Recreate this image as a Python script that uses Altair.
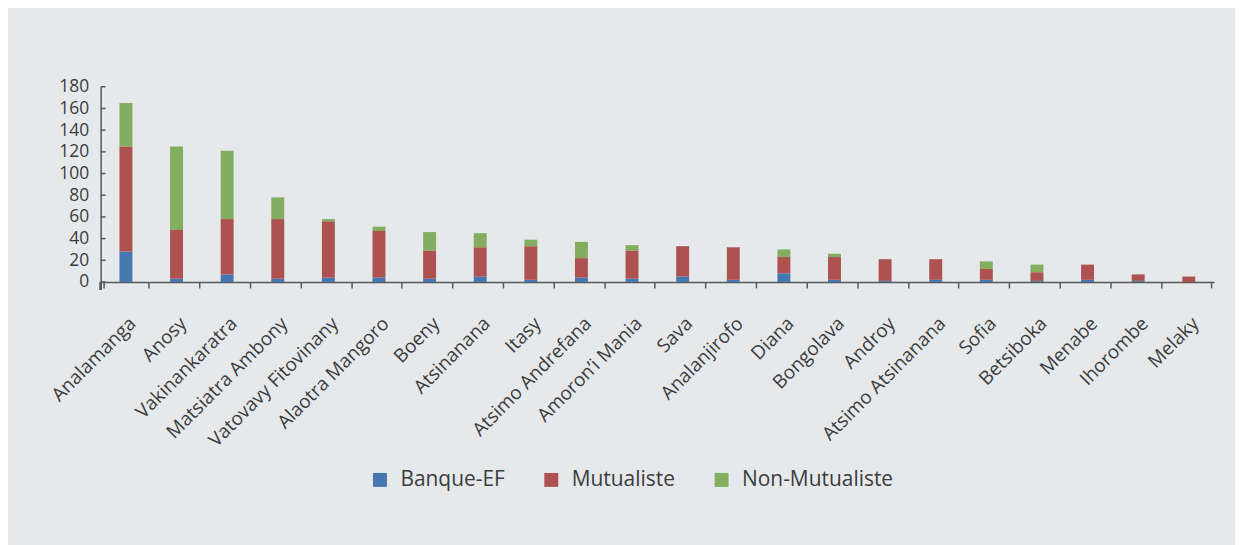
import altair as alt
import pandas as pd

regions = ["Analamanga", "Anosy", "Vakinankaratra", "Matsiatra Ambony", "Vatovavy Fitovinany",
           "Alaotra Mangoro", "Boeny", "Atsinanana", "Itasy", "Atsimo Andrefana", "Amoron’i Mania",
           "Sava", "Analanjirofo", "Diana", "Bongolava", "Androy", "Atsimo Atsinanana", "Sofia",
           "Betsiboka", "Menabe", "Ihorombe", "Melaky"]
banque = [28, 3, 7, 3, 4, 4, 3, 5, 2, 4, 3, 5, 2, 8, 2, 1, 2, 2, 1, 2, 1, 0]
mutualiste = [97, 45, 51, 55, 52, 43, 26, 27, 31, 18, 26, 28, 30, 15, 21, 20, 19, 10, 8, 14, 6, 5]
non_mutualiste = [40, 77, 63, 20, 2, 4, 17, 13, 6, 15, 5, 0, 0, 7, 3, 0, 0, 7, 7, 0, 0, 0]
series = ["Banque-EF", "Mutualiste", "Non-Mutualiste"]
colors = ["#4677B0", "#AD5151", "#83AE5F"]
y_ticks = [0, 20, 40, 60, 80, 100, 120, 140, 160, 180]

rows = []
for i, r in enumerate(regions):
    for k, (s, vals) in enumerate(zip(series, [banque, mutualiste, non_mutualiste])):
        rows.append({"region": r, "serie": s, "value": vals[i], "ord": k})
df = pd.DataFrame(rows)
tick_df = pd.DataFrame({"v": y_ticks})

FONT = "Open Sans"
TXT = "#3C3C3C"
AX = "#595959"

y_axis = alt.Axis(values=y_ticks, tickSize=0, labelPadding=12, labelFontSize=17.5,
                  labelFont=FONT, labelColor=TXT, domainColor=AX, domainWidth=1.5,
                  grid=False, labelOverlap=False, labelBound=False, title=None)
y_scale = alt.Scale(domain=[0, 180], nice=False)

bars = alt.Chart(df).mark_bar(size=13).encode(
    x=alt.X("region:N", sort=regions, title=None,
            axis=alt.Axis(labelAngle=-45, labelAlign="right", labelBaseline="top",
                          labelPadding=26, labelFontSize=19, labelFont=FONT, labelColor=TXT,
                          tickBand="extent", tickSize=6, tickColor=AX, domainColor=AX,
                          domainWidth=1.5, tickWidth=1.5, labelLimit=400, labelOverlap=False)),
    y=alt.Y("value:Q", stack="zero", title=None, scale=y_scale, axis=y_axis),
    color=alt.Color("serie:N", scale=alt.Scale(domain=series, range=colors),
                    legend=alt.Legend(title=None, orient="none", legendX=270, legendY=384,
                                      direction="horizontal", columns=3, columnPadding=36,
                                      symbolType="square", symbolSize=196, symbolStrokeWidth=0,
                                      labelFontSize=21, labelFont=FONT, labelColor=TXT,
                                      labelOffset=10)),
    order=alt.Order("ord:Q", sort="ascending"),
)

yticks = alt.Chart(tick_df).mark_rule(color=AX, strokeWidth=1.5).encode(
    y=alt.Y("v:Q", title=None, scale=y_scale, axis=y_axis), x=alt.value(0), x2=alt.value(5)
)
yext = alt.Chart(tick_df).mark_rule(color=AX, strokeWidth=1.5).encode(
    x=alt.value(0), y=alt.value(196), y2=alt.value(204)
)

chart = alt.layer(bars, yticks, yext).properties(
    width=1118, height=196,
    padding={"left": 93, "top": 78, "right": 21, "bottom": 263},
    autosize=alt.AutoSizeParams(type="none"),
    background="#E5E9EC",
).configure_view(stroke=None).configure_axisY(labelOverlap=False)

chart.save("out.html", embed_options={"renderer": "svg", "actions": False})
